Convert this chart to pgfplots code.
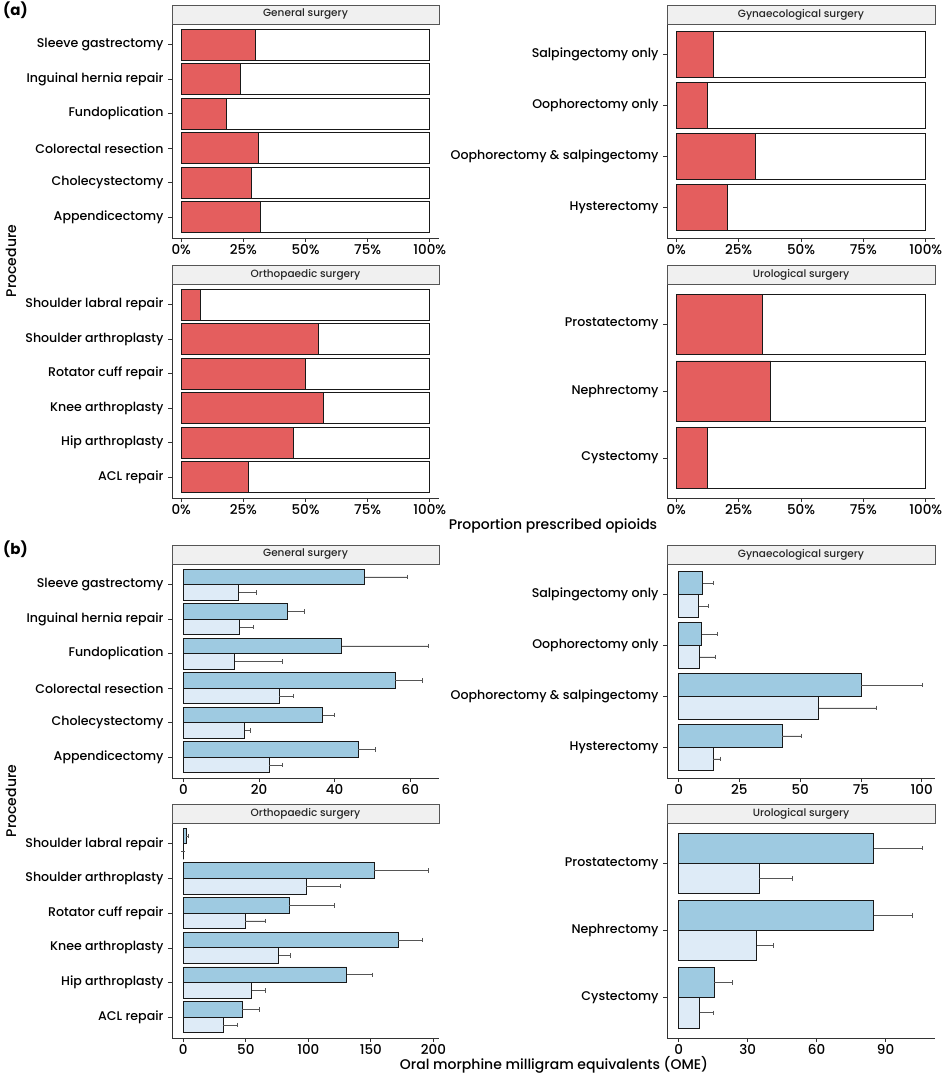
\documentclass[border=0pt]{standalone}
\usepackage{fontspec}
\setmainfont{Poppins}[UprightFont={Poppins Medium}, BoldFont={Poppins Bold}]
\usepackage{pgfplots}
\usepackage{pgfplotstable}
\pgfplotsset{compat=1.18}
\definecolor{redbar}{HTML}{E45E5E}
\definecolor{darkblue}{HTML}{9ECAE1}
\definecolor{lightblue}{HTML}{DEEBF7}
\definecolor{stripfill}{HTML}{F0F0F0}
\definecolor{stripdraw}{HTML}{555555}
\definecolor{axcol}{HTML}{333333}
\definecolor{errcol}{HTML}{555555}

% ---------- panel (a) data: y (top = highest), value ----------
\pgfplotstableread{
y val
5 30.0
4 23.7
3 18.0
2 31.1
1 28.4
0 31.8
}\aGen
\pgfplotstableread{
y val
3 14.7
2 12.5
1 31.8
0 20.5
}\aGyn
\pgfplotstableread{
y val
5 7.6
4 55.0
3 50.0
2 57.2
1 45.2
0 27.1
}\aOrt
\pgfplotstableread{
y val
2 34.6
1 37.9
0 12.5
}\aUro

% ---------- panel (b) data: y, mean, upper error (plus) ----------
\pgfplotstableread{
y val err
5.225 48.0 11.3
4.225 27.6 4.5
3.225 41.9 22.8
2.225 56.0 7.1
1.225 36.9 3.1
0.225 46.3 4.5
}\bGenD
\pgfplotstableread{
y val err
4.775 14.6 4.8
3.775 14.9 3.7
2.775 13.6 12.7
1.775 25.3 3.7
0.775 16.2 1.4
-0.225 22.7 3.5
}\bGenL
\pgfplotstableread{
y val err
3.225 9.9 4.2
2.225 9.5 6.6
1.225 75.0 25.4
0.225 42.7 8.0
}\bGynD
\pgfplotstableread{
y val err
2.775 8.2 3.9
1.775 8.7 6.5
0.775 57.7 23.8
-0.225 14.1 3.2
}\bGynL
\pgfplotstableread{
y val err
5.225 2.4 1.9
4.225 152.6 43.1
3.225 84.7 36.2
2.225 171.8 19.7
1.225 130.8 20.5
0.225 47.1 13.9
}\bOrtD
\pgfplotstableread{
y val err
4.775 0.0 0.0
3.775 98.5 26.9
2.775 49.5 16.0
1.775 76.4 9.1
0.775 54.6 10.9
-0.225 32.0 11.1
}\bOrtL
\pgfplotstableread{
y val err
2.225 84.9 21.2
1.225 84.8 16.9
0.225 15.4 7.8
}\bUroD
\pgfplotstableread{
y val err
1.775 35.0 14.5
0.775 34.0 7.4
-0.225 9.1 6.0
}\bUroL

\pgfplotsset{
  panel/.style={
    scale only axis,
    anchor=south west,
    clip=false,
    axis x line*=bottom,
    axis y line*=left,
    axis line style={axcol, line width=0.8pt},
    tick style={axcol, line width=0.7pt},
    tick align=outside,
    major tick length=4pt,
    xtick pos=bottom, ytick pos=left,
    tick label style={font=\fontsize{12.6}{14}\selectfont, text=black},
    xticklabel style={font=\fontsize{13.5}{15}\selectfont, yshift=1pt},
    /pgf/number format/assume math mode=true,
    yticklabel style={xshift=-1pt},
    xbar, bar shift=0pt,
    enlargelimits=false,
  },
  pa/.style={panel, xmin=-3.7, xmax=103.7, xtick={0,25,50,75,100},
    xticklabel={\pgfmathprintnumber{\tick}\%}},
  wbar/.style={draw=black!90, fill=white, line width=0.8pt, bar width=0.9},
  rbar/.style={draw=black!90, fill=redbar, line width=0.8pt, bar width=0.9},
  dbar/.style={draw=black!90, fill=darkblue, line width=0.8pt, bar width=0.45,
    error bars/.cd, x dir=plus, x explicit,
    error bar style={errcol, line width=0.8pt},
    error mark options={errcol, line width=0.8pt, mark size=2.2pt, rotate=90}},
  lbar/.style={draw=black!90, fill=lightblue, line width=0.8pt, bar width=0.45,
    error bars/.cd, x dir=plus, x explicit,
    error bar style={errcol, line width=0.8pt},
    error mark options={errcol, line width=0.8pt, mark size=2.2pt, rotate=90}},
}
\newcommand{\striplabel}[1]{%
  \draw[fill=stripfill, draw=stripdraw, line width=0.7pt]
    (rel axis cs:0,1) rectangle ([yshift=19pt]rel axis cs:1,1);
  \node[font=\fontsize{10.5}{12}\selectfont, text=black!85] at ([yshift=9.5pt]rel axis cs:0.5,1) {#1};
}

\begin{document}
\begin{tikzpicture}
\useasboundingbox (0,0) rectangle (945pt,-1076pt);

% ================= (a) =================
\node[anchor=north west, font=\fontsize{15}{17}\selectfont\bfseries, inner sep=0pt] at (3pt,-2pt) {(a)};
\node[rotate=90, font=\fontsize{14}{16}\selectfont, inner sep=0pt] at (11pt,-261pt) {Procedure};
\node[font=\fontsize{14}{16}\selectfont, inner sep=0pt] at (553pt,-526pt) {Proportion prescribed opioids};

\begin{axis}[pa, at={(172pt,-238pt)}, width=267pt, height=214pt,
  ymin=-0.6, ymax=5.6,
  ytick={0,1,2,3,4,5},
  yticklabels={Appendicectomy,Cholecystectomy,Colorectal resection,Fundoplication,Inguinal hernia repair,Sleeve gastrectomy}]
\addplot[wbar] table[x expr=100, y=y] {\aGen};
\addplot[rbar] table[x=val, y=y] {\aGen};
\striplabel{General surgery}
\end{axis}

\begin{axis}[pa, at={(667pt,-238pt)}, width=268pt, height=214pt,
  ymin=-0.6, ymax=3.6,
  ytick={0,1,2,3},
  yticklabels={Hysterectomy,Oophorectomy \& salpingectomy,Oophorectomy only,Salpingectomy only}]
\addplot[wbar] table[x expr=100, y=y] {\aGyn};
\addplot[rbar] table[x=val, y=y] {\aGyn};
\striplabel{Gynaecological surgery}
\end{axis}

\begin{axis}[pa, at={(172pt,-498pt)}, width=267pt, height=214pt,
  ymin=-0.6, ymax=5.6,
  ytick={0,1,2,3,4,5},
  yticklabels={ACL repair,Hip arthroplasty,Knee arthroplasty,Rotator cuff repair,Shoulder arthroplasty,Shoulder labral repair}]
\addplot[wbar] table[x expr=100, y=y] {\aOrt};
\addplot[rbar] table[x=val, y=y] {\aOrt};
\striplabel{Orthopaedic surgery}
\end{axis}

\begin{axis}[pa, at={(667pt,-498pt)}, width=268pt, height=214pt,
  ymin=-0.6, ymax=2.6,
  ytick={0,1,2},
  yticklabels={Cystectomy,Nephrectomy,Prostatectomy}]
\addplot[wbar] table[x expr=100, y=y] {\aUro};
\addplot[rbar] table[x=val, y=y] {\aUro};
\striplabel{Urological surgery}
\end{axis}

% ================= (b) =================
\node[anchor=north west, font=\fontsize{15}{17}\selectfont\bfseries, inner sep=0pt] at (3pt,-541pt) {(b)};
\node[rotate=90, font=\fontsize{14}{16}\selectfont, inner sep=0pt] at (11pt,-801pt) {Procedure};
\node[font=\fontsize{14}{16}\selectfont, inner sep=0pt] at (554pt,-1065pt) {Oral morphine milligram equivalents (OME)};

\begin{axis}[panel, at={(172pt,-778pt)}, width=267pt, height=214pt,
  xmin=-3.0, xmax=67.6, xtick={0,20,40,60},
  ymin=-0.6, ymax=5.6,
  ytick={0,1,2,3,4,5},
  yticklabels={Appendicectomy,Cholecystectomy,Colorectal resection,Fundoplication,Inguinal hernia repair,Sleeve gastrectomy}]
\addplot[dbar] table[x=val, y=y, x error plus=err] {\bGenD};
\addplot[lbar] table[x=val, y=y, x error plus=err] {\bGenL};
\striplabel{General surgery}
\end{axis}

\begin{axis}[panel, at={(667pt,-778pt)}, width=268pt, height=214pt,
  xmin=-4.8, xmax=105.5, xtick={0,25,50,75,100},
  ymin=-0.6, ymax=3.6,
  ytick={0,1,2,3},
  yticklabels={Hysterectomy,Oophorectomy \& salpingectomy,Oophorectomy only,Salpingectomy only}]
\addplot[dbar] table[x=val, y=y, x error plus=err] {\bGynD};
\addplot[lbar] table[x=val, y=y, x error plus=err] {\bGynL};
\striplabel{Gynaecological surgery}
\end{axis}

\begin{axis}[panel, at={(172pt,-1038pt)}, width=267pt, height=215pt,
  xmin=-9.0, xmax=204.5, xtick={0,50,100,150,200},
  ymin=-0.6, ymax=5.6,
  ytick={0,1,2,3,4,5},
  yticklabels={ACL repair,Hip arthroplasty,Knee arthroplasty,Rotator cuff repair,Shoulder arthroplasty,Shoulder labral repair}]
\addplot[dbar] table[x=val, y=y, x error plus=err] {\bOrtD};
\addplot[lbar] table[x=val, y=y, x error plus=err] {\bOrtL};
\striplabel{Orthopaedic surgery}
\end{axis}

\begin{axis}[panel, at={(667pt,-1038pt)}, width=268pt, height=215pt,
  xmin=-5.1, xmax=111.5, xtick={0,30,60,90},
  ymin=-0.6, ymax=2.6,
  ytick={0,1,2},
  yticklabels={Cystectomy,Nephrectomy,Prostatectomy}]
\addplot[dbar] table[x=val, y=y, x error plus=err] {\bUroD};
\addplot[lbar] table[x=val, y=y, x error plus=err] {\bUroL};
\striplabel{Urological surgery}
\end{axis}
\end{tikzpicture}
\end{document}
